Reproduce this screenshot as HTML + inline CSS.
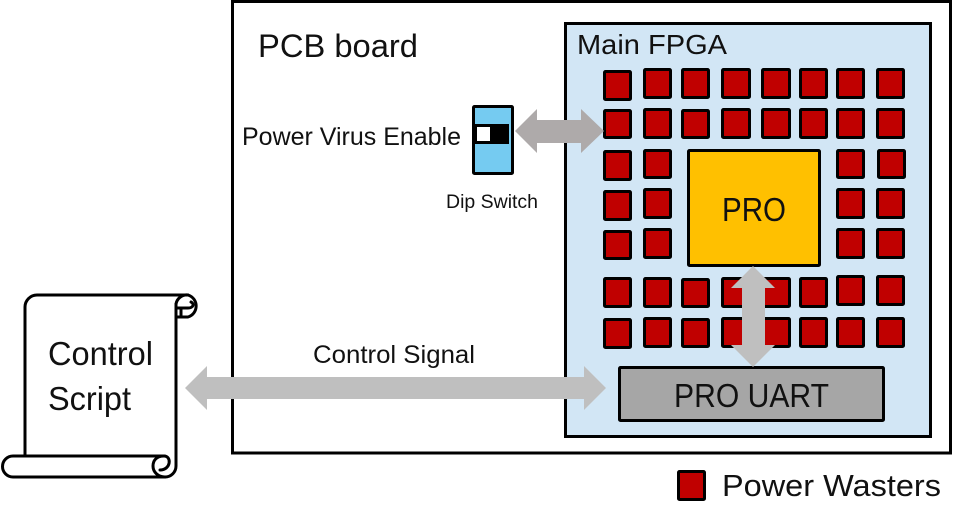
<!DOCTYPE html>
<html>
<head>
<meta charset="utf-8">
<style>
html,body{margin:0;padding:0;background:#fff;width:965px;height:530px;overflow:hidden}
svg{display:block}
text{font-family:"Liberation Sans",sans-serif;fill:#111}
.w rect{fill:#c00000;stroke:#000;stroke-width:3}
</style>
</head>
<body>
<svg width="965" height="530" viewBox="0 0 965 530" xmlns="http://www.w3.org/2000/svg">
<rect x="232.5" y="1.5" width="718" height="451.5" fill="#fff" stroke="#000" stroke-width="3"/>
<rect x="565.5" y="23.5" width="365" height="413" fill="#d2e6f5" stroke="#000" stroke-width="3"/>
<text x="258" y="57" font-size="32" textLength="160" lengthAdjust="spacingAndGlyphs">PCB board</text>
<text x="577" y="54" font-size="28" textLength="150" lengthAdjust="spacingAndGlyphs">Main FPGA</text>
<text x="242" y="145" font-size="25" textLength="219" lengthAdjust="spacingAndGlyphs">Power Virus Enable</text>
<text x="446" y="208" font-size="19" textLength="92" lengthAdjust="spacingAndGlyphs">Dip Switch</text>
<text x="313" y="363" font-size="25" textLength="162" lengthAdjust="spacingAndGlyphs">Control Signal</text>
<text x="722" y="496" font-size="31" textLength="219" lengthAdjust="spacingAndGlyphs">Power Wasters</text>

<g class="w">
<rect x="604.5" y="71.5" width="26" height="28" rx="1"/>
<rect x="644.5" y="69.5" width="26" height="28" rx="1"/>
<rect x="682.5" y="69.5" width="26" height="28" rx="1"/>
<rect x="722.5" y="69.5" width="27" height="28" rx="1"/>
<rect x="762.5" y="69.5" width="27" height="28" rx="1"/>
<rect x="800.5" y="69.5" width="26" height="28" rx="1"/>
<rect x="837.5" y="69.5" width="26" height="28" rx="1"/>
<rect x="877.5" y="69.5" width="26" height="28" rx="1"/>

<rect x="604.5" y="110.5" width="26" height="27" rx="1"/>
<rect x="644.5" y="109.5" width="26" height="28" rx="1"/>
<rect x="682.5" y="110.5" width="26" height="27" rx="1"/>
<rect x="722.5" y="109.5" width="27" height="28" rx="1"/>
<rect x="762.5" y="109.5" width="27" height="28" rx="1"/>
<rect x="800.5" y="109.5" width="26" height="28" rx="1"/>
<rect x="837.5" y="109.5" width="26" height="28" rx="1"/>
<rect x="877.5" y="109.5" width="26" height="28" rx="1"/>

<rect x="604.5" y="151.5" width="26" height="28" rx="1"/>
<rect x="644.5" y="150.5" width="26" height="27" rx="1"/>
<rect x="837.5" y="150.5" width="26" height="27" rx="1"/>
<rect x="878.5" y="150.5" width="26" height="27" rx="1"/>

<rect x="604.5" y="191.5" width="26" height="28" rx="1"/>
<rect x="644.5" y="189.5" width="26" height="28" rx="1"/>
<rect x="837.5" y="189.5" width="26" height="28" rx="1"/>
<rect x="877.5" y="189.5" width="26" height="28" rx="1"/>

<rect x="604.5" y="231.5" width="26" height="27" rx="1"/>
<rect x="644.5" y="229.5" width="26" height="28" rx="1"/>
<rect x="837.5" y="229.5" width="26" height="28" rx="1"/>
<rect x="877.5" y="229.5" width="26" height="28" rx="1"/>

<rect x="604.5" y="278.5" width="26" height="28" rx="1"/>
<rect x="644.5" y="278.5" width="26" height="28" rx="1"/>
<rect x="682.5" y="279.5" width="26" height="27" rx="1"/>
<rect x="722.5" y="278.5" width="27" height="28" rx="1"/>
<rect x="762.5" y="278.5" width="27" height="28" rx="1"/>
<rect x="800.5" y="278.5" width="26" height="28" rx="1"/>
<rect x="837.5" y="276.5" width="26" height="28" rx="1"/>
<rect x="877.5" y="276.5" width="26" height="28" rx="1"/>

<rect x="604.5" y="319.5" width="26" height="28" rx="1"/>
<rect x="644.5" y="318.5" width="26" height="28" rx="1"/>
<rect x="682.5" y="319.5" width="26" height="27" rx="1"/>
<rect x="722.5" y="318.5" width="27" height="28" rx="1"/>
<rect x="762.5" y="318.5" width="27" height="28" rx="1"/>
<rect x="800.5" y="318.5" width="26" height="28" rx="1"/>
<rect x="837.5" y="318.5" width="26" height="28" rx="1"/>
<rect x="877.5" y="318.5" width="26" height="28" rx="1"/>

<rect x="678.5" y="471.5" width="26" height="28" rx="1"/>
</g>

<rect x="688.5" y="150.5" width="131" height="115" rx="1" fill="#ffc000" stroke="#000" stroke-width="3"/>
<text x="722" y="221" font-size="33" textLength="64" lengthAdjust="spacingAndGlyphs">PRO</text>
<rect x="619.5" y="367.5" width="264" height="53" rx="1" fill="#a6a6a6" stroke="#000" stroke-width="3"/>
<text x="674" y="407" font-size="33" textLength="155" lengthAdjust="spacingAndGlyphs">PRO UART</text>

<polygon points="515,131 537,109 537,120 581,120 581,109 604,131 581,153 581,143 537,143 537,153" fill="#aeaaaa"/>
<polygon points="753,266 775,288 765,288 765,345 775,345 753,367 731,345 742,345 742,288 731,288" fill="#bfbfbf"/>
<polygon points="185,388 207,366 207,377 584,377 584,366 606,388 584,410 584,399 207,399 207,410" fill="#bfbfbf"/>

<rect x="473.5" y="106.5" width="39" height="67" rx="1" fill="#75cbf1" stroke="#000" stroke-width="3"/>
<rect x="475" y="124" width="34" height="20" fill="#000"/>
<rect x="477" y="127" width="13" height="14" fill="#fff"/>

<g fill="none" stroke="#000" stroke-width="3" stroke-linejoin="round" stroke-linecap="round">
<path d="M25 455 V307 A12 12 0 0 1 37 295 H188 A11.5 11.5 0 0 1 188 317 H176"/>
<path d="M176 304 A11 11 0 0 1 188 295"/>
<path d="M176 308 H188 C193 308 195 304 191 302"/>
<path d="M181 308 V316"/>
<path d="M176 304 V466 A11 11 0 0 1 165 477 H13 A10.5 10.5 0 0 1 13 456 H164"/>
<path d="M164 456 C172 456 171 470 160 470"/>
<path d="M164 456 C156 456 153 461 153 466 C153 472 158 477 165 477"/>
</g>
<text x="48" y="365" font-size="33" textLength="105" lengthAdjust="spacingAndGlyphs">Control</text>
<text x="48" y="410" font-size="33" textLength="83" lengthAdjust="spacingAndGlyphs">Script</text>
</svg>
</body>
</html>
